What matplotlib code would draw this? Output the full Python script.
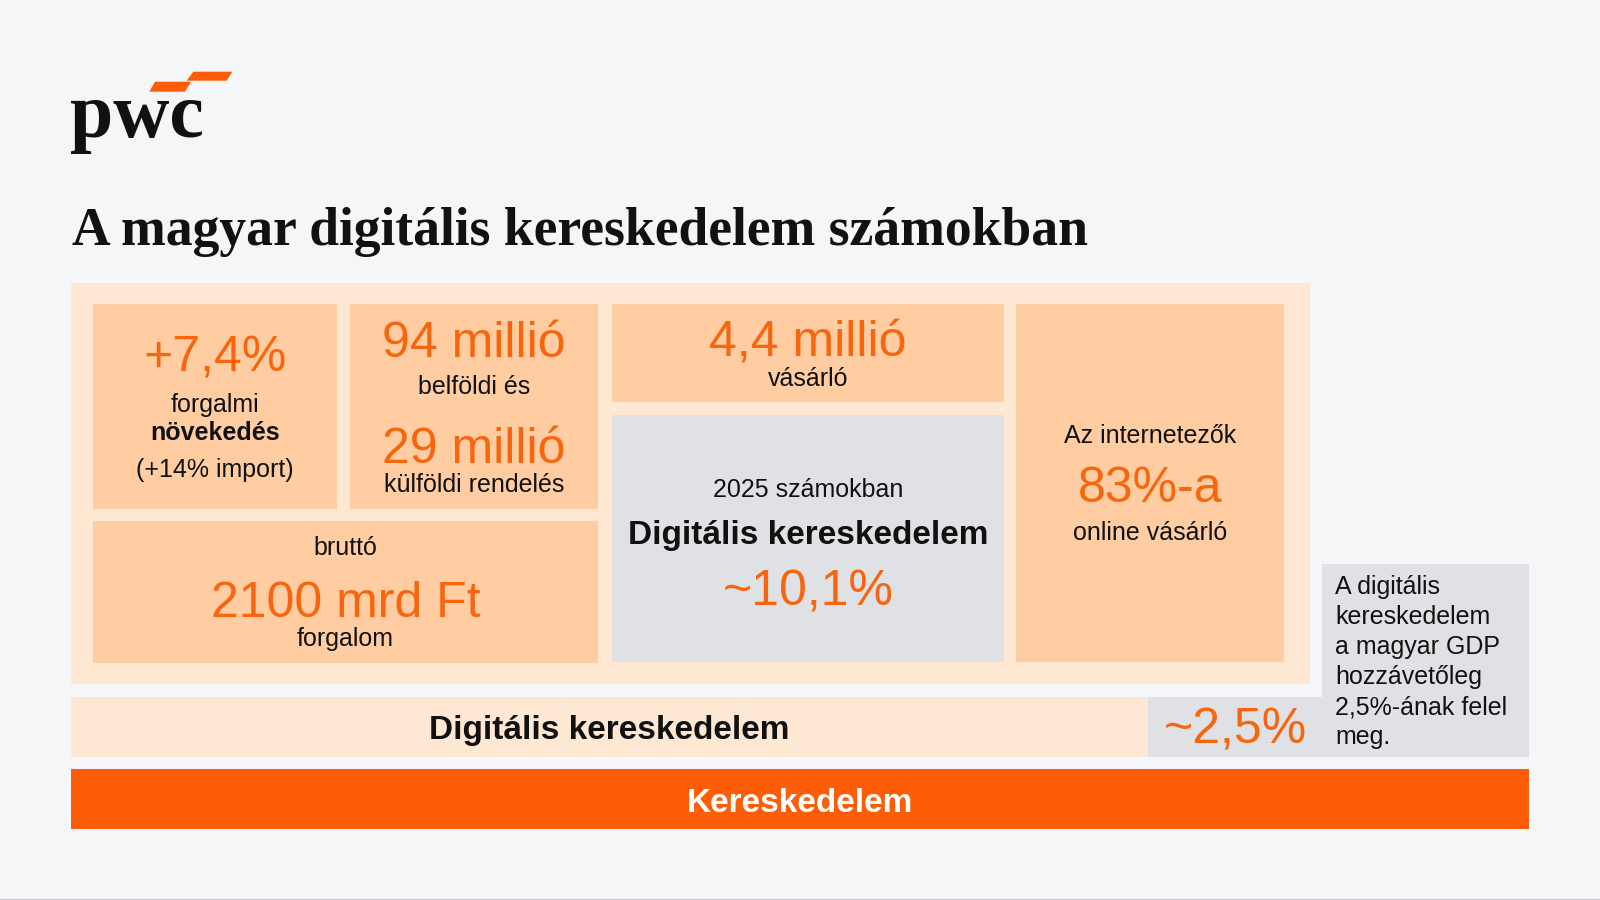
import matplotlib
matplotlib.use("Agg")
import matplotlib.pyplot as plt
from matplotlib.patches import Rectangle, Polygon

# ---------------- content ----------------
logo_text = "pwc"
title = "A magyar digitális kereskedelem számokban"

growth_value = "+7,4%"
growth_labels = ["forgalmi", "növekedés", "(+14% import)"]
orders_values = ["94 millió", "29 millió"]
orders_labels = ["belföldi és", "külföldi rendelés"]
turnover_labels = ["bruttó", "forgalom"]
turnover_value = "2100 mrd Ft"
buyers_value = "4,4 millió"
buyers_label = "vásárló"
share_year_label = "2025 számokban"
share_title = "Digitális kereskedelem"
share_value = "~10,1%"
internet_labels = ["Az internetezők", "online vásárló"]
internet_value = "83%-a"
digital_bar_label = "Digitális kereskedelem"
gdp_value = "~2,5%"
gdp_note = ["A digitális", "kereskedelem", "a magyar GDP", "hozzávetőleg",
            "2,5%-ának felel", "meg."]
retail_bar_label = "Kereskedelem"

# ---------------- styles ----------------
BG = "#F5F6F8"
PANEL = "#FFE8D3"
BOX = "#FFCDA1"
GREY = "#DFE1E4"
ORANGE = "#FD5D06"
ORANGE_TXT = "#F8650F"
INK = "#111111"
SANS = ["Liberation Sans", "DejaVu Sans"]
SERIF = ["Liberation Serif", "DejaVu Serif"]
BIG = 36
SMALL = 18
BOLDSZ = 24

fig = plt.figure(figsize=(16, 9), dpi=100, facecolor=BG)
ax = fig.add_axes([0, 0, 1, 1])
ax.set_xlim(0, 1600)
ax.set_ylim(900, 0)
ax.axis("off")
ax.set_facecolor(BG)


def rect(x0, y0, x1, y1, color):
    ax.add_patch(Rectangle((x0, y0), x1 - x0, y1 - y0, facecolor=color,
                           edgecolor="none", zorder=1))


def txt(x, y, s, size, color=INK, weight="normal", ha="center", family=SANS):
    return ax.text(x, y, s, fontsize=size, color=color, fontweight=weight, ha=ha,
                   va="baseline", family=family, zorder=3)


# logo
ax.add_patch(Polygon([(149.3, 91.7), (185, 91.7), (191, 81.7), (155, 81.7)],
                     closed=True, facecolor=ORANGE, edgecolor="none"))
ax.add_patch(Polygon([(186.7, 80.7), (226.7, 80.7), (232.3, 71.7), (193.3, 71.7)],
                     closed=True, facecolor=ORANGE, edgecolor="none"))
txt(70, 137, logo_text, 56, INK, "bold", "left", SERIF)

# title (fit to reference width)
t = txt(72, 245, title, 36, INK, "bold", "left", SERIF)
fig.canvas.draw()
w = t.get_window_extent(renderer=fig.canvas.get_renderer()).width
t.set_fontsize(36 * 1018.0 / w)

# panels
rect(71, 283, 1310, 684, PANEL)
rect(93, 304, 337, 509, BOX)
rect(350, 304, 598, 509, BOX)
rect(93, 521, 598, 663, BOX)
rect(612, 304, 1004, 402, BOX)
rect(612, 415, 1004, 662, GREY)
rect(1016, 304, 1284, 662, BOX)
rect(71, 697, 1148, 757, PANEL)
rect(1148, 697, 1322, 757, GREY)
rect(1322, 564, 1529, 757, GREY)
rect(71, 769, 1529, 829, ORANGE)
ax.plot([0, 1600], [899.5, 899.5], color="#BFC1C4", lw=1.2, zorder=4)

# box 1
txt(215, 371.7, growth_value, BIG, ORANGE_TXT)
txt(215, 411.7, growth_labels[0], SMALL)
txt(215, 440.5, growth_labels[1], SMALL, INK, "bold")
txt(215, 477.5, growth_labels[2], SMALL)

# box 2
txt(474, 357, orders_values[0], BIG, ORANGE_TXT)
txt(474, 394, orders_labels[0], SMALL)
txt(474, 462.7, orders_values[1], BIG, ORANGE_TXT)
txt(474, 491.7, orders_labels[1], SMALL)

# turnover
txt(345.5, 555, turnover_labels[0], SMALL)
txt(345.5, 616.7, turnover_value, BIG, ORANGE_TXT)
txt(345.5, 645.7, turnover_labels[1], SMALL)

# buyers
txt(808, 356.7, buyers_value, BIG, ORANGE_TXT)
txt(808, 386, buyers_label, SMALL)

# share
txt(808, 496.7, share_year_label, SMALL)
txt(808, 544, share_title, BOLDSZ, INK, "bold")
txt(808, 605, share_value, BIG, ORANGE_TXT)

# internet users
txt(1150, 443.3, internet_labels[0], SMALL)
txt(1150, 501.7, internet_value, BIG, ORANGE_TXT)
txt(1150, 540, internet_labels[1], SMALL)

# bottom bars
txt(609.5, 739.3, digital_bar_label, BOLDSZ, INK, "bold")
txt(1235, 744, gdp_value, BIG, ORANGE_TXT)
for i, line in enumerate(gdp_note):
    txt(1335, 594 + i * 30, line, SMALL, INK, "normal", "left")
txt(800, 812, retail_bar_label, BOLDSZ, "white", "bold")

fig.savefig("out.png", dpi=100, facecolor=BG)
